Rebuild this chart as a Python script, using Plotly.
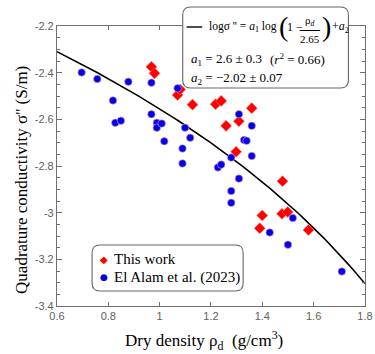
import numpy as np
import plotly.graph_objects as go

# ---- data ----
this_work_rho = [0.968, 0.980, 1.070, 1.080, 1.128, 1.218, 1.240, 1.259, 1.298, 1.309,
                 1.359, 1.390, 1.400, 1.477, 1.479, 1.499, 1.580]
this_work_logsig = [-2.375, -2.403, -2.496, -2.472, -2.537, -2.535, -2.521, -2.628, -2.739, -2.608,
                    -2.552, -3.067, -3.012, -3.005, -2.865, -2.997, -3.074]

elalam_rho = [0.696, 0.757, 0.818, 0.827, 0.849, 0.878, 0.968, 0.968, 0.989, 0.989,
              1.008, 1.018, 1.070, 1.089, 1.089, 1.099, 1.119, 1.227, 1.240, 1.279,
              1.279, 1.279, 1.309, 1.309, 1.329, 1.339, 1.359, 1.359, 1.429, 1.500,
              1.519, 1.710]
elalam_logsig = [-2.399, -2.427, -2.519, -2.615, -2.606, -2.439, -2.443, -2.578, -2.615, -2.636,
                 -2.618, -2.694, -2.467, -2.725, -2.789, -2.636, -2.679, -2.806, -2.794, -2.764,
                 -2.907, -2.958, -2.578, -2.854, -2.689, -2.692, -2.628, -2.757, -3.085, -3.137,
                 -3.023, -3.252]

# fitted model parameters (from the chart's equation box)
A1 = 2.6
A2 = -2.02
RHO_S = 2.65

x_ticks = [0.6, 0.8, 1.0, 1.2, 1.4, 1.6, 1.8]
x_tick_labels = ["0.6", "0.8", "1", "1.2", "1.4", "1.6", "1.8"]
y_ticks = [-2.2, -2.4, -2.6, -2.8, -3.0, -3.2, -3.4]
y_tick_labels = ["-2.2", "-2.4", "-2.6", "-2.8", "-3", "-3.2", "-3.4"]

fit_rho = np.linspace(0.6, 1.8, 121)
fit_log = A1 * np.log10(1 - fit_rho / RHO_S) + A2

# ---- layout helpers (pixel -> paper) ----
W, H = 375, 354
L, R, T, B = 57, 373, 26, 306
def px(x): return (x - L) / (R - L)
def py(y): return (B - y) / (B - T)

def rounded_rect(x0, y0, x1, y1, r):
    X0, X1 = px(x0), px(x1)
    Yt, Yb = py(y0), py(y1)
    rx, ry = r / (R - L), r / (B - T)
    return (f"M {X0+rx},{Yt} L {X1-rx},{Yt} Q {X1},{Yt} {X1},{Yt-ry} "
            f"L {X1},{Yb+ry} Q {X1},{Yb} {X1-rx},{Yb} L {X0+rx},{Yb} "
            f"Q {X0},{Yb} {X0},{Yb+ry} L {X0},{Yt-ry} Q {X0},{Yt} {X0+rx},{Yt} Z")

SERIF = "Liberation Serif, DejaVu Serif, serif"
SANS = "Liberation Sans, Arial, sans-serif"

fig = go.Figure()
fig.add_trace(go.Scatter(x=fit_rho, y=fit_log, mode="lines",
                         line=dict(color="black", width=1.6), showlegend=False, hoverinfo="skip"))
fig.add_trace(go.Scatter(x=this_work_rho, y=this_work_logsig, mode="markers", name="This work",
                         marker=dict(symbol="diamond", size=8.5, color="#ff0000",
                                     line=dict(color="#ff8080", width=0.5))))
fig.add_trace(go.Scatter(x=elalam_rho, y=elalam_logsig, mode="markers", name="El Alam et al. (2023)",
                         marker=dict(symbol="circle", size=7.5, color="#0000e8",
                                     line=dict(color="#f0a0d0", width=0.6))))

axis_common = dict(showgrid=False, zeroline=False, showline=True, mirror="ticks",
                   linecolor="#707070", linewidth=1.2, ticks="inside", tickcolor="#707070",
                   tickfont=dict(family=SANS, size=11, color="#606060"))

fig.update_xaxes(range=[0.6, 1.8003], tickvals=x_ticks, ticktext=x_tick_labels, ticklen=4,
                 ticklabeloverflow="allow", **axis_common)
fig.update_yaxes(range=[-3.4, -2.2], tickvals=y_ticks, ticktext=y_tick_labels, ticklen=5,
                 minor=dict(dtick=0.05, ticks="inside", ticklen=3, tickcolor="#707070"),
                 **axis_common)

shapes = [
    dict(type="path", xref="paper", yref="paper", path=rounded_rect(186, 7, 356, 88, 8),
         line=dict(color="#666666", width=1.1), fillcolor="white", layer="above"),
    dict(type="path", xref="paper", yref="paper", path=rounded_rect(93, 245, 248, 291, 8),
         line=dict(color="#666666", width=1.1), fillcolor="white", layer="above"),
    dict(type="line", xref="paper", yref="paper", x0=px(190), x1=px(206), y0=py(27), y1=py(27),
         line=dict(color="black", width=1.4), layer="above"),
    dict(type="line", xref="paper", yref="paper", x0=px(306), x1=px(327), y0=py(30.5), y1=py(30.5),
         line=dict(color="black", width=1), layer="above"),
]

def ann(text, x, y, size=14, xanchor="left", family=SERIF, color="black", **kw):
    return dict(text=text, x=px(x), y=py(y), xref="paper", yref="paper", xanchor=xanchor,
                yanchor="middle", showarrow=False, font=dict(family=family, size=size, color=color), **kw)

annotations = [
    ann("logσ '' = <i>a</i><sub>1</sub> log", 211, 27, size=11.5),
    ann("(", 283, 26, size=28),
    ann("1 −", 291, 27, size=12),
    ann("ρ<sub><i>d</i></sub>", 316.5, 21, size=11, xanchor="center"),
    ann("2.65", 316.5, 39, size=11, xanchor="center"),
    ann(")", 326.5, 26, size=28),
    ann("+<i>a</i><sub>2</sub>", 337, 27, size=12),
    ann("<i>a</i><sub>1</sub> = 2.6 ± 0.3", 192, 59, size=13),
    ann("(<i>r</i><sup>2</sup> = 0.66)", 273, 59, size=13),
    ann("<i>a</i><sub>2</sub> = −2.02 ± 0.07", 192, 78, size=13),
    # legend
    ann("<span style='color:#ff0000'>◆</span>", 99, 259, size=10, family="DejaVu Sans"),
    ann("<span style='color:#0000e8'>●</span>", 99, 277, size=9, family="DejaVu Sans"),
    ann("This work", 113, 259, size=15),
    ann("El Alam et al. (2023)", 113, 277, size=15),
    # axis titles
    ann("Dry density ρ<sub>d</sub>  (g/cm<sup>3</sup>)", 208, 340, size=17, xanchor="center"),
    dict(text="Quadrature conductivity σ'' (S/m)", x=px(20), y=py(180), xref="paper", yref="paper",
         xanchor="center", yanchor="middle", textangle=-90, showarrow=False,
         font=dict(family=SERIF, size=17, color="black")),
]

fig.update_layout(width=W, height=H, margin=dict(l=L, r=W - R, t=T, b=H - B),
                  plot_bgcolor="white", paper_bgcolor="white", showlegend=False,
                  shapes=shapes, annotations=annotations)

fig.write_html("out.html")
